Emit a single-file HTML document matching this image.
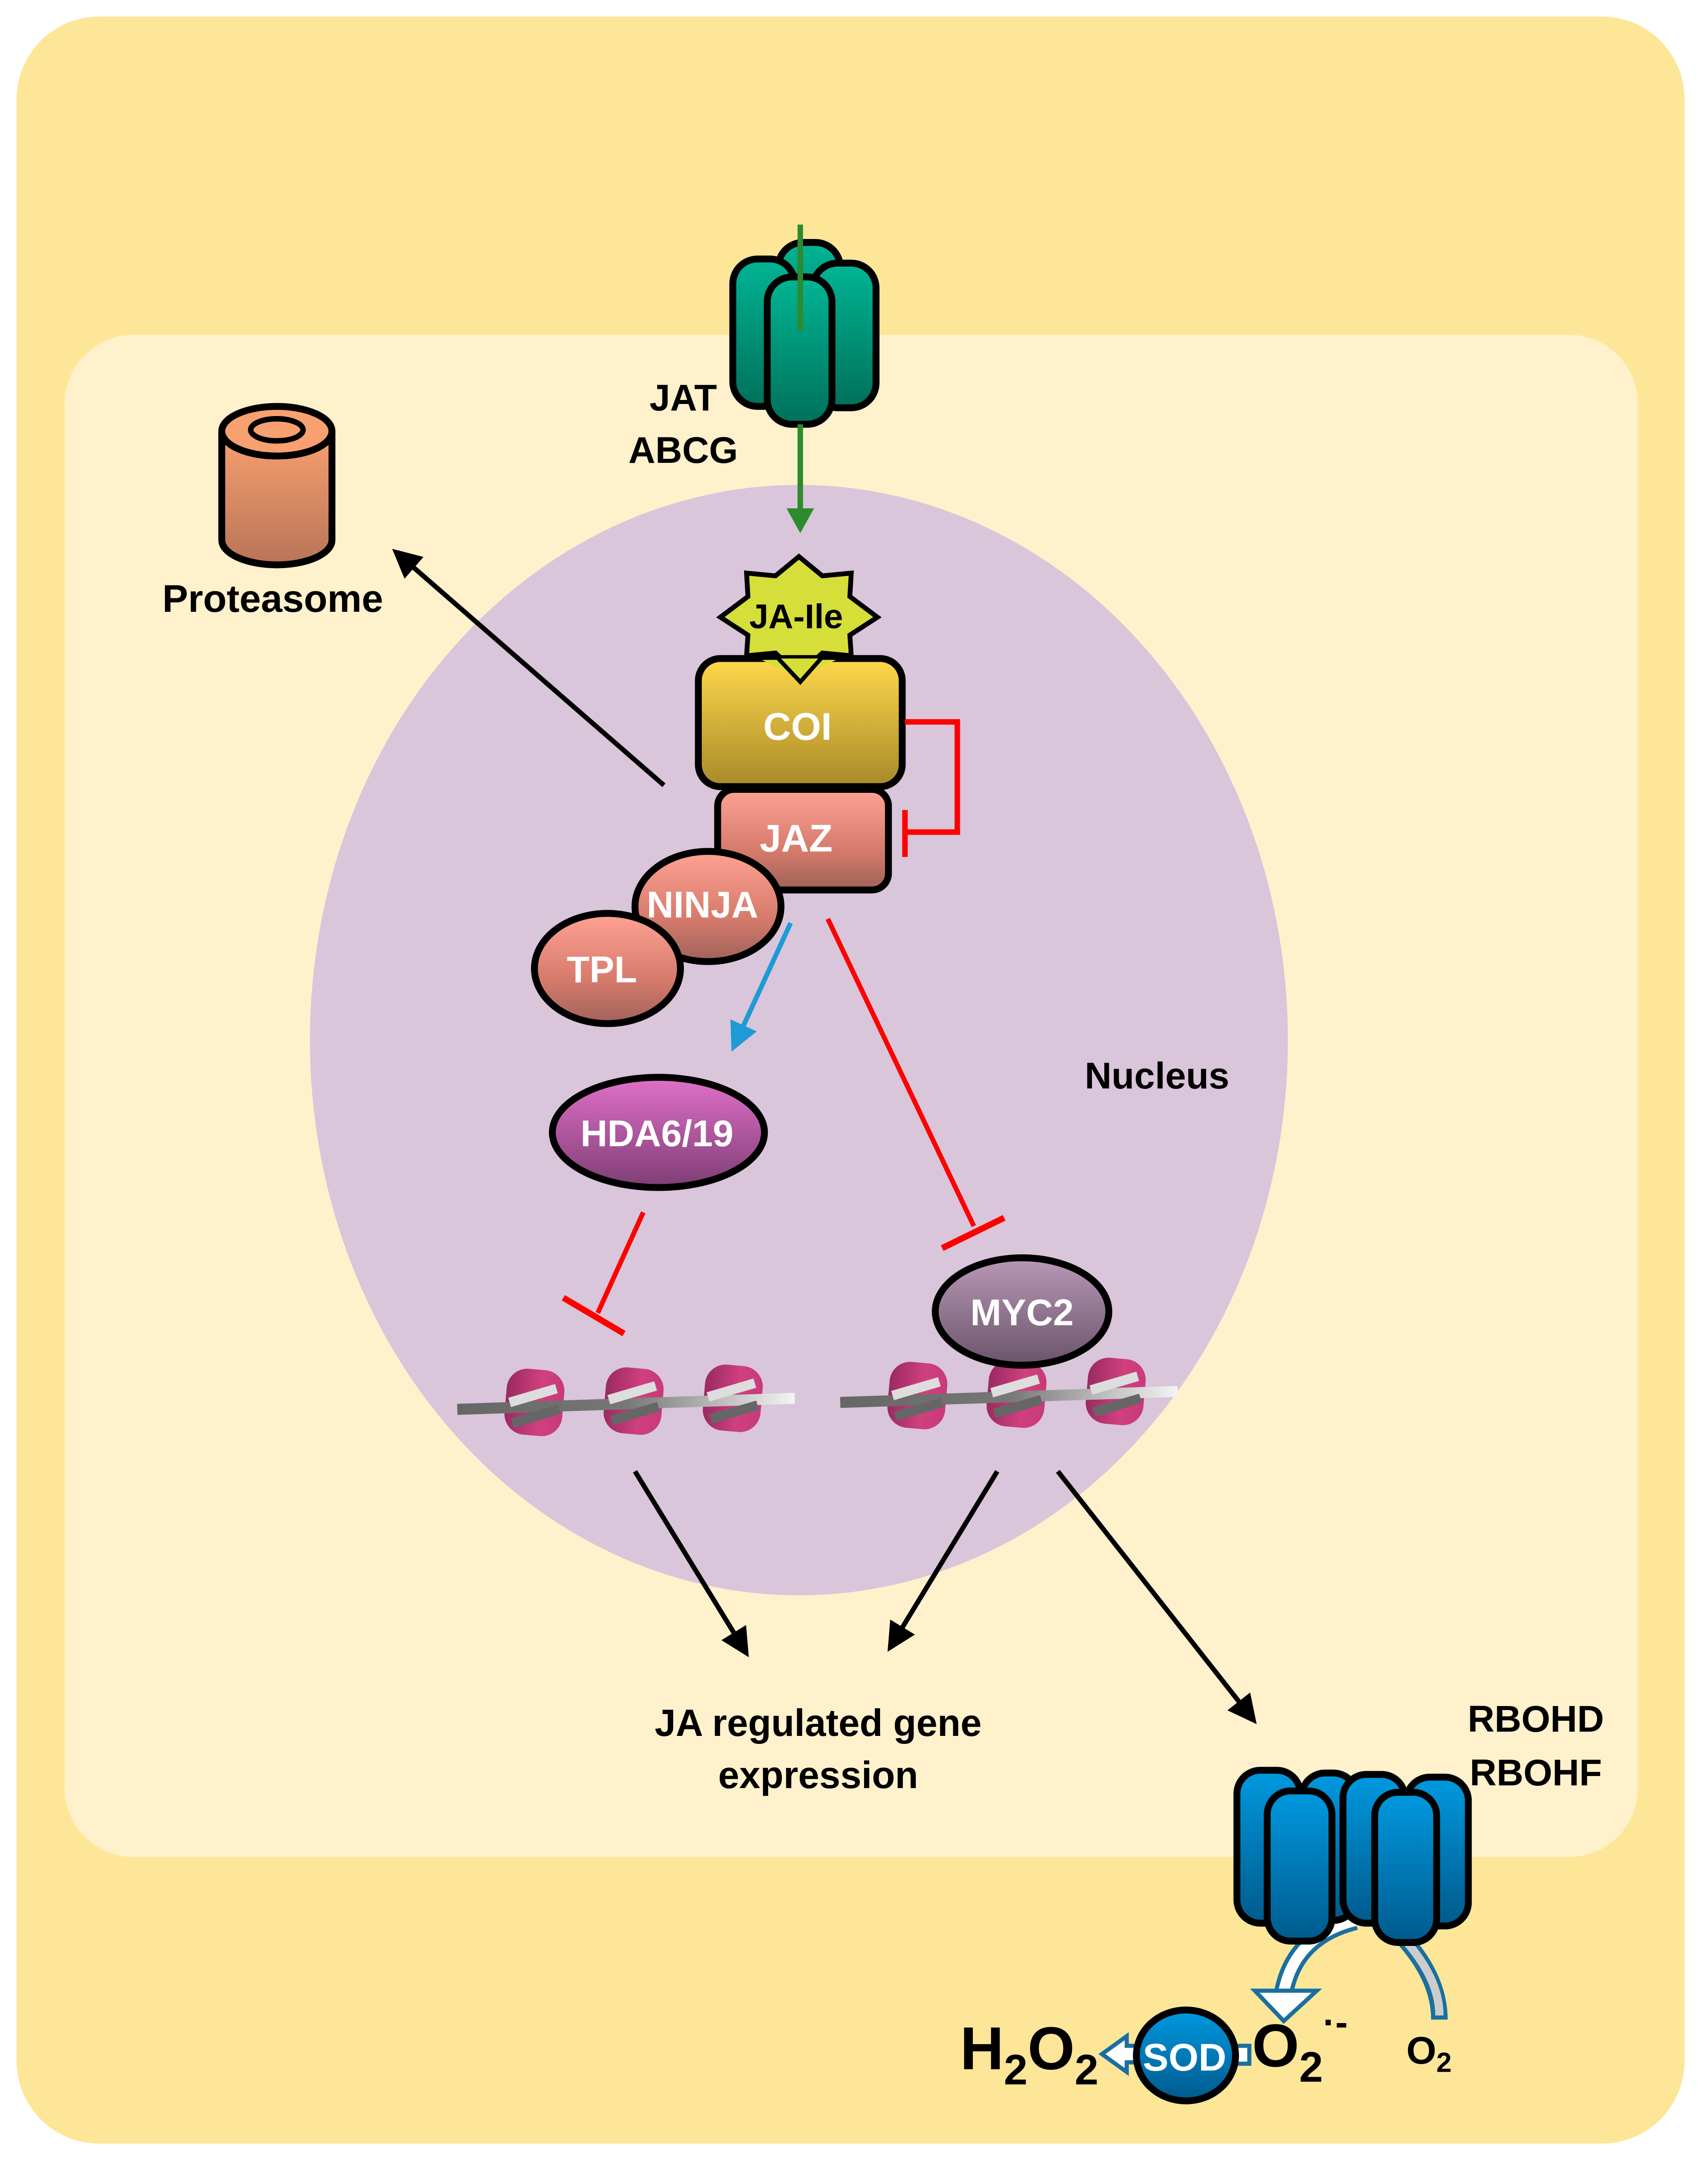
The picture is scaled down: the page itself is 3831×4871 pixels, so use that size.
<!DOCTYPE html>
<html><head><meta charset="utf-8"><style>
html,body{margin:0;padding:0;background:#fff;}
svg{display:block;}
text{font-family:"Liberation Sans",sans-serif;font-weight:bold;}
</style></head><body>
<svg width="3831" height="4871" viewBox="0 0 1240 1576.6" preserveAspectRatio="none" xmlns="http://www.w3.org/2000/svg">
<defs>
<linearGradient id="teal" x1="0" y1="0" x2="0" y2="1"><stop offset="0" stop-color="#00b594"/><stop offset="1" stop-color="#00705a"/></linearGradient>
<linearGradient id="blue" x1="0" y1="0" x2="0" y2="1"><stop offset="0" stop-color="#0099e0"/><stop offset="1" stop-color="#005a8c"/></linearGradient>
<linearGradient id="gold" x1="0" y1="0" x2="0" y2="1"><stop offset="0" stop-color="#ffd84a"/><stop offset="1" stop-color="#a8892a"/></linearGradient>
<linearGradient id="salmon" x1="0" y1="0" x2="0" y2="1"><stop offset="0" stop-color="#ffa293"/><stop offset="0.6" stop-color="#d67b6c"/><stop offset="1" stop-color="#a0625a"/></linearGradient>
<linearGradient id="mag" x1="0" y1="0" x2="0" y2="1"><stop offset="0" stop-color="#e070c8"/><stop offset="1" stop-color="#7e3e74"/></linearGradient>
<linearGradient id="myc" x1="0" y1="0" x2="0" y2="1"><stop offset="0" stop-color="#b898b8"/><stop offset="1" stop-color="#6a5468"/></linearGradient>
<linearGradient id="prot" x1="0" y1="0" x2="0" y2="1"><stop offset="0" stop-color="#f9a070"/><stop offset="1" stop-color="#b87458"/></linearGradient>
<linearGradient id="nuc" x1="0" y1="0" x2="1" y2="0"><stop offset="0" stop-color="#9a2a62"/><stop offset="0.6" stop-color="#d0407e"/><stop offset="1" stop-color="#c83a7a"/></linearGradient>
<linearGradient id="dna" x1="0" y1="0" x2="1" y2="0"><stop offset="0" stop-color="#666"/><stop offset="0.5" stop-color="#777"/><stop offset="1" stop-color="#f4f4f4"/></linearGradient>
<marker id="ab" markerWidth="6" markerHeight="6" refX="4" refY="3" orient="auto" markerUnits="strokeWidth"><path d="M0,0 L6,3 L0,6 z" fill="#000"/></marker>
<marker id="abl" markerWidth="6" markerHeight="6" refX="4" refY="3" orient="auto" markerUnits="strokeWidth"><path d="M0,0 L6,3 L0,6 z" fill="#1e9ad6"/></marker>
<g id="nucl">
  <rect x="-21" y="-24" width="42" height="48" rx="15" fill="url(#nuc)"/>
</g>
</defs>

<rect x="12" y="12" width="1211" height="1544" rx="60" fill="#fee698"/>
<rect x="47" y="243" width="1142" height="1105" rx="50" fill="#fef1cc"/>
<ellipse cx="580" cy="755" rx="355" ry="403" fill="#d9c6da"/>

<g stroke="#000" stroke-width="5">
<rect x="565" y="176" width="45" height="110" rx="18" fill="url(#teal)"/>
<rect x="532" y="188" width="45" height="107" rx="18" fill="url(#teal)"/>
<rect x="590" y="191" width="46" height="105" rx="18" fill="url(#teal)"/>
<rect x="557" y="201" width="47" height="107" rx="18" fill="url(#teal)"/>
</g>
<line x1="581" y1="163" x2="581" y2="240" stroke="#2e8a2e" stroke-width="4"/>
<line x1="581" y1="308" x2="581" y2="372" stroke="#2e8a2e" stroke-width="4"/>
<path d="M571,369 L591,369 L581,387 z" fill="#2e8a2e"/>
<text x="496" y="298" font-size="27" text-anchor="middle">JAT</text>
<text x="496" y="336" font-size="27" text-anchor="middle">ABCG</text>

<g stroke="#000" stroke-width="5">
<path d="M161,313 L161,392 A40,18 0 0 0 241,392 L241,313" fill="url(#prot)"/>
<ellipse cx="201" cy="313" rx="40" ry="18" fill="#f9a070"/>
<ellipse cx="201" cy="312" rx="19" ry="8" fill="#f9a070" stroke-width="4"/>
</g>
<text x="198" y="444" font-size="28" text-anchor="middle">Proteasome</text>
<line x1="482" y1="570" x2="290" y2="403" stroke="#000" stroke-width="3.5" marker-end="url(#ab)"/>

<path d="M580,404 L597,418 L618,416 L617,433 L637,448 L617,461 L618,476 L597,474 L580,490 L563,474 L542,476 L543,461 L523,448 L543,433 L542,416 L563,418 z" fill="#d6de3a" stroke="#000" stroke-width="3.5"/>
<text x="578" y="456" font-size="25" text-anchor="middle">JA-Ile</text>

<rect x="507" y="478" width="148" height="93" rx="16" fill="url(#gold)" stroke="#000" stroke-width="5"/>
<path d="M553,479 L580,492 L607,479" fill="#d6de3a"/>
<path d="M565,478 L581,495 L596,478" fill="#d6de3a" stroke="#000" stroke-width="3"/>
<text x="579" y="537" font-size="28" fill="#fff" text-anchor="middle">COI</text>
<rect x="521" y="573" width="124" height="73" rx="12" fill="url(#salmon)" stroke="#000" stroke-width="5"/>
<text x="578" y="618" font-size="28" fill="#fff" text-anchor="middle">JAZ</text>
<path d="M657,524 L695,524 L695,604 L657,604 M657,588 L657,622" fill="none" stroke="#f00" stroke-width="4"/>

<ellipse cx="514" cy="658" rx="53" ry="40" fill="url(#salmon)" stroke="#000" stroke-width="5"/>
<text x="510" y="666" font-size="27" fill="#fff" text-anchor="middle">NINJA</text>
<ellipse cx="441" cy="703" rx="53" ry="40" fill="url(#salmon)" stroke="#000" stroke-width="5"/>
<text x="437" y="713" font-size="27" fill="#fff" text-anchor="middle">TPL</text>

<line x1="574" y1="670" x2="534" y2="757" stroke="#1e9ad6" stroke-width="3.5" marker-end="url(#abl)"/>
<line x1="601" y1="667" x2="707" y2="890" stroke="#f00" stroke-width="3.5"/>
<line x1="684" y1="906" x2="729" y2="884" stroke="#f00" stroke-width="4.5"/>

<ellipse cx="478" cy="822" rx="77" ry="40" fill="url(#mag)" stroke="#000" stroke-width="5"/>
<text x="477" y="832" font-size="27" fill="#fff" text-anchor="middle">HDA6/19</text>
<line x1="467" y1="880" x2="434" y2="953" stroke="#f00" stroke-width="3.5"/>
<line x1="409" y1="942" x2="453" y2="968" stroke="#f00" stroke-width="4.5"/>

<text x="840" y="790" font-size="27" text-anchor="middle">Nucleus</text>

<g>
<use href="#nucl" transform="translate(388,1018) rotate(5)"/>
<use href="#nucl" transform="translate(460,1017) rotate(5)"/>
<use href="#nucl" transform="translate(532,1015) rotate(5)"/>
<line x1="332" y1="1023" x2="577" y2="1015" stroke="url(#dna)" stroke-width="8"/>
<g stroke="#ddd" stroke-width="7">
<line x1="370" y1="1018" x2="404" y2="1008"/><line x1="442" y1="1016" x2="476" y2="1006"/><line x1="514" y1="1014" x2="548" y2="1004"/>
</g>
<g stroke="#666" stroke-width="7">
<line x1="372" y1="1033" x2="406" y2="1023"/><line x1="444" y1="1031" x2="478" y2="1021"/><line x1="516" y1="1030" x2="550" y2="1020"/>
</g>
</g>
<g transform="translate(278,-5)">
<use href="#nucl" transform="translate(388,1018) rotate(5)"/>
<use href="#nucl" transform="translate(460,1017) rotate(5)"/>
<use href="#nucl" transform="translate(532,1015) rotate(5)"/>
<line x1="332" y1="1023" x2="577" y2="1015" stroke="url(#dna)" stroke-width="8"/>
<g stroke="#ddd" stroke-width="7">
<line x1="370" y1="1018" x2="404" y2="1008"/><line x1="442" y1="1016" x2="476" y2="1006"/><line x1="514" y1="1014" x2="548" y2="1004"/>
</g>
<g stroke="#666" stroke-width="7">
<line x1="372" y1="1033" x2="406" y2="1023"/><line x1="444" y1="1031" x2="478" y2="1021"/><line x1="516" y1="1030" x2="550" y2="1020"/>
</g>
</g>
<ellipse cx="742" cy="952" rx="63" ry="39" fill="url(#myc)" stroke="#000" stroke-width="5"/>
<text x="742" y="962" font-size="27" fill="#fff" text-anchor="middle">MYC2</text>

<line x1="461" y1="1068" x2="540" y2="1197" stroke="#000" stroke-width="3.5" marker-end="url(#ab)"/>
<line x1="724" y1="1068" x2="648" y2="1193" stroke="#000" stroke-width="3.5" marker-end="url(#ab)"/>
<line x1="768" y1="1068" x2="908" y2="1246" stroke="#000" stroke-width="3.5" marker-end="url(#ab)"/>
<text x="594" y="1260" font-size="27.5" text-anchor="middle">JA regulated gene</text>
<text x="594" y="1298" font-size="27.5" text-anchor="middle">expression</text>
<text x="1115" y="1257" font-size="27" text-anchor="middle">RBOHD</text>
<text x="1115" y="1296" font-size="27" text-anchor="middle">RBOHF</text>

<path d="M1017,1405 Q1045,1435 1045,1466" fill="none" stroke="#1a6fa0" stroke-width="12"/>
<path d="M1017,1405 Q1045,1435 1045,1463" fill="none" stroke="#ccc" stroke-width="6"/>
<path d="M984,1394 Q940,1405 932,1446" fill="none" stroke="#1a6fa0" stroke-width="14"/>
<path d="M984,1394 Q940,1405 932,1446" fill="none" stroke="#fff" stroke-width="8"/>
<path d="M911,1445 L956,1445 L932,1467 z" fill="#fff" stroke="#1a6fa0" stroke-width="3"/>

<g stroke="#000" stroke-width="5">
<rect x="898" y="1285" width="46" height="111" rx="17" fill="url(#blue)"/>
<rect x="945" y="1287" width="40" height="107" rx="17" fill="url(#blue)"/>
<rect x="1021" y="1290" width="45" height="108" rx="17" fill="url(#blue)"/>
<rect x="920" y="1300" width="47" height="109" rx="17" fill="url(#blue)"/>
<rect x="975" y="1288" width="45" height="108" rx="17" fill="url(#blue)"/>
<rect x="998" y="1301" width="45" height="109" rx="17" fill="url(#blue)"/>
</g>

<rect x="895" y="1485" width="12" height="13" fill="#fff" stroke="#1a6fa0" stroke-width="3"/>
<path d="M845,1485 L818,1485 L818,1478 L800,1491 L818,1504 L818,1497 L845,1497 z" fill="#fff" stroke="#1a6fa0" stroke-width="3"/>
<ellipse cx="861" cy="1492" rx="36" ry="33" fill="url(#blue)" stroke="#000" stroke-width="5"/>
<text x="860" y="1503" font-size="28" fill="#fff" text-anchor="middle">SOD</text>
<text x="697" y="1502" font-size="44">H<tspan font-size="31" dy="11">2</tspan><tspan dy="-11">O</tspan><tspan font-size="31" dy="11">2</tspan></text>
<text x="909" y="1500" font-size="44">O<tspan font-size="31" dy="11">2</tspan><tspan font-size="27" dy="-34">·-</tspan></text>
<text x="1021" y="1498" font-size="28">O<tspan font-size="20" dy="6">2</tspan></text>
</svg>
</body></html>
